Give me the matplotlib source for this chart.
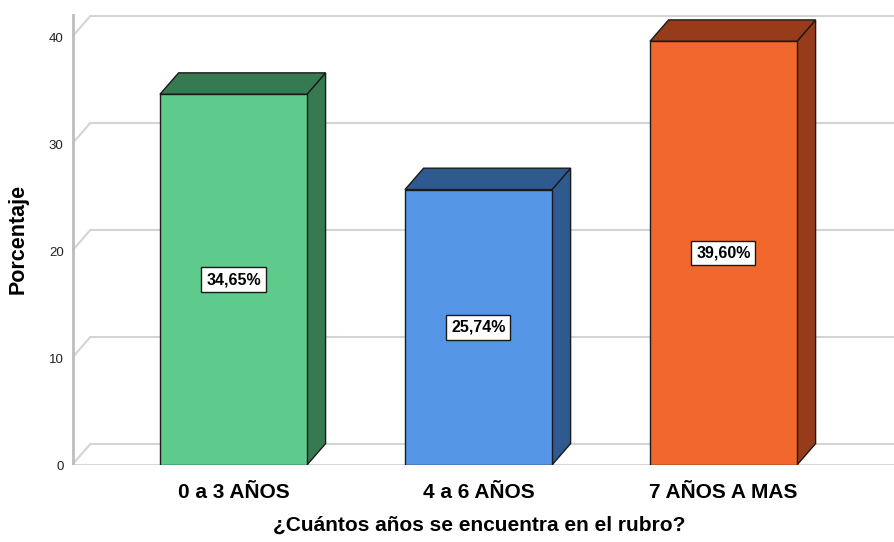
#!/usr/bin/env python3
"""SPSS-style 3D bar chart: years in the business."""

import matplotlib.pyplot as plt
from matplotlib.patches import Polygon, Rectangle

categories = ["0 a 3 AÑOS", "4 a 6 AÑOS", "7 AÑOS A MAS"]
percentages = [34.65, 25.74, 39.60]
value_labels = ["34,65%", "25,74%", "39,60%"]
y_ticks = [0, 10, 20, 30, 40]

face_colors = ["#5ECA8C", "#5596E6", "#F2682C"]
dark_colors = ["#367A52", "#2F5A90", "#963C1A"]

FONT = ["Liberation Sans", "DejaVu Sans"]
GRID = "#D4D4D4"


def main() -> None:
    plt.rcParams["font.family"] = FONT
    fig = plt.figure(figsize=(8.94, 5.42), dpi=100)
    ax = fig.add_axes([72 / 894, 77 / 542, 1 - 72 / 894, 465 / 542])

    xs = list(range(len(categories)))
    width = 0.6
    dx, dy = 0.076, 2.0  # depth offset in data units
    ax.set_xlim(-0.659, 2.696)
    ax.set_ylim(0, 43.46)

    # walls / grid: diagonal from front axis to the back, then across
    x0, x1 = ax.get_xlim()
    for v in y_ticks:
        ax.plot([x0, x0 + dx], [v, v + dy], color=GRID, lw=1.5, zorder=1,
                solid_capstyle="butt")
        ax.plot([x0 + dx, x1], [v + dy, v + dy], color=GRID, lw=1.5, zorder=1)
    ax.plot([x0, x1], [0, 0], color=GRID, lw=1.5, zorder=1)
    ax.plot([x0 + 0.004, x0 + 0.004], [0, 42.1], color="#BDBDBD", lw=2, zorder=1)

    for x, v, fc, dc, lab in zip(xs, percentages, face_colors, dark_colors, value_labels):
        left, right = x - width / 2, x + width / 2
        side = Polygon([(right, 0), (right + dx, dy), (right + dx, v + dy), (right, v)],
                       closed=True, facecolor=dc, edgecolor="#1a1a1a", lw=1, zorder=3)
        top = Polygon([(left, v), (left + dx, v + dy), (right + dx, v + dy), (right, v)],
                      closed=True, facecolor=dc, edgecolor="#1a1a1a", lw=1, zorder=3)
        front = Rectangle((left, 0), width, v, facecolor=fc, edgecolor="#1a1a1a",
                          lw=1, zorder=4)
        ax.add_patch(side)
        ax.add_patch(top)
        ax.add_patch(front)
        ax.text(x, v / 2, lab, ha="center", va="center", fontsize=11.5,
                fontweight="bold", zorder=5,
                bbox=dict(boxstyle="square,pad=0.3", facecolor="white",
                          edgecolor="#1a1a1a", lw=1))

    ax.set_xticks(xs)
    ax.set_xticklabels(categories, fontsize=15, fontweight="bold")
    ax.set_yticks(y_ticks)
    ax.set_yticklabels([str(t) for t in y_ticks], fontsize=9.5, color="#222222")
    ax.tick_params(axis="both", length=0)
    ax.tick_params(axis="x", pad=13)
    ax.tick_params(axis="y", pad=6)
    for s in ax.spines.values():
        s.set_visible(False)

    fig.text(479 / 894, 1 - 525 / 542, "¿Cuántos años se encuentra en el rubro?",
             ha="center", va="center", fontsize=15, fontweight="bold")
    fig.text(18 / 894, 1 - 239 / 542, "Porcentaje", ha="center", va="center",
             rotation=90, fontsize=15.5, fontweight="bold")

    fig.savefig("out.png", dpi=100)


if __name__ == "__main__":
    main()
